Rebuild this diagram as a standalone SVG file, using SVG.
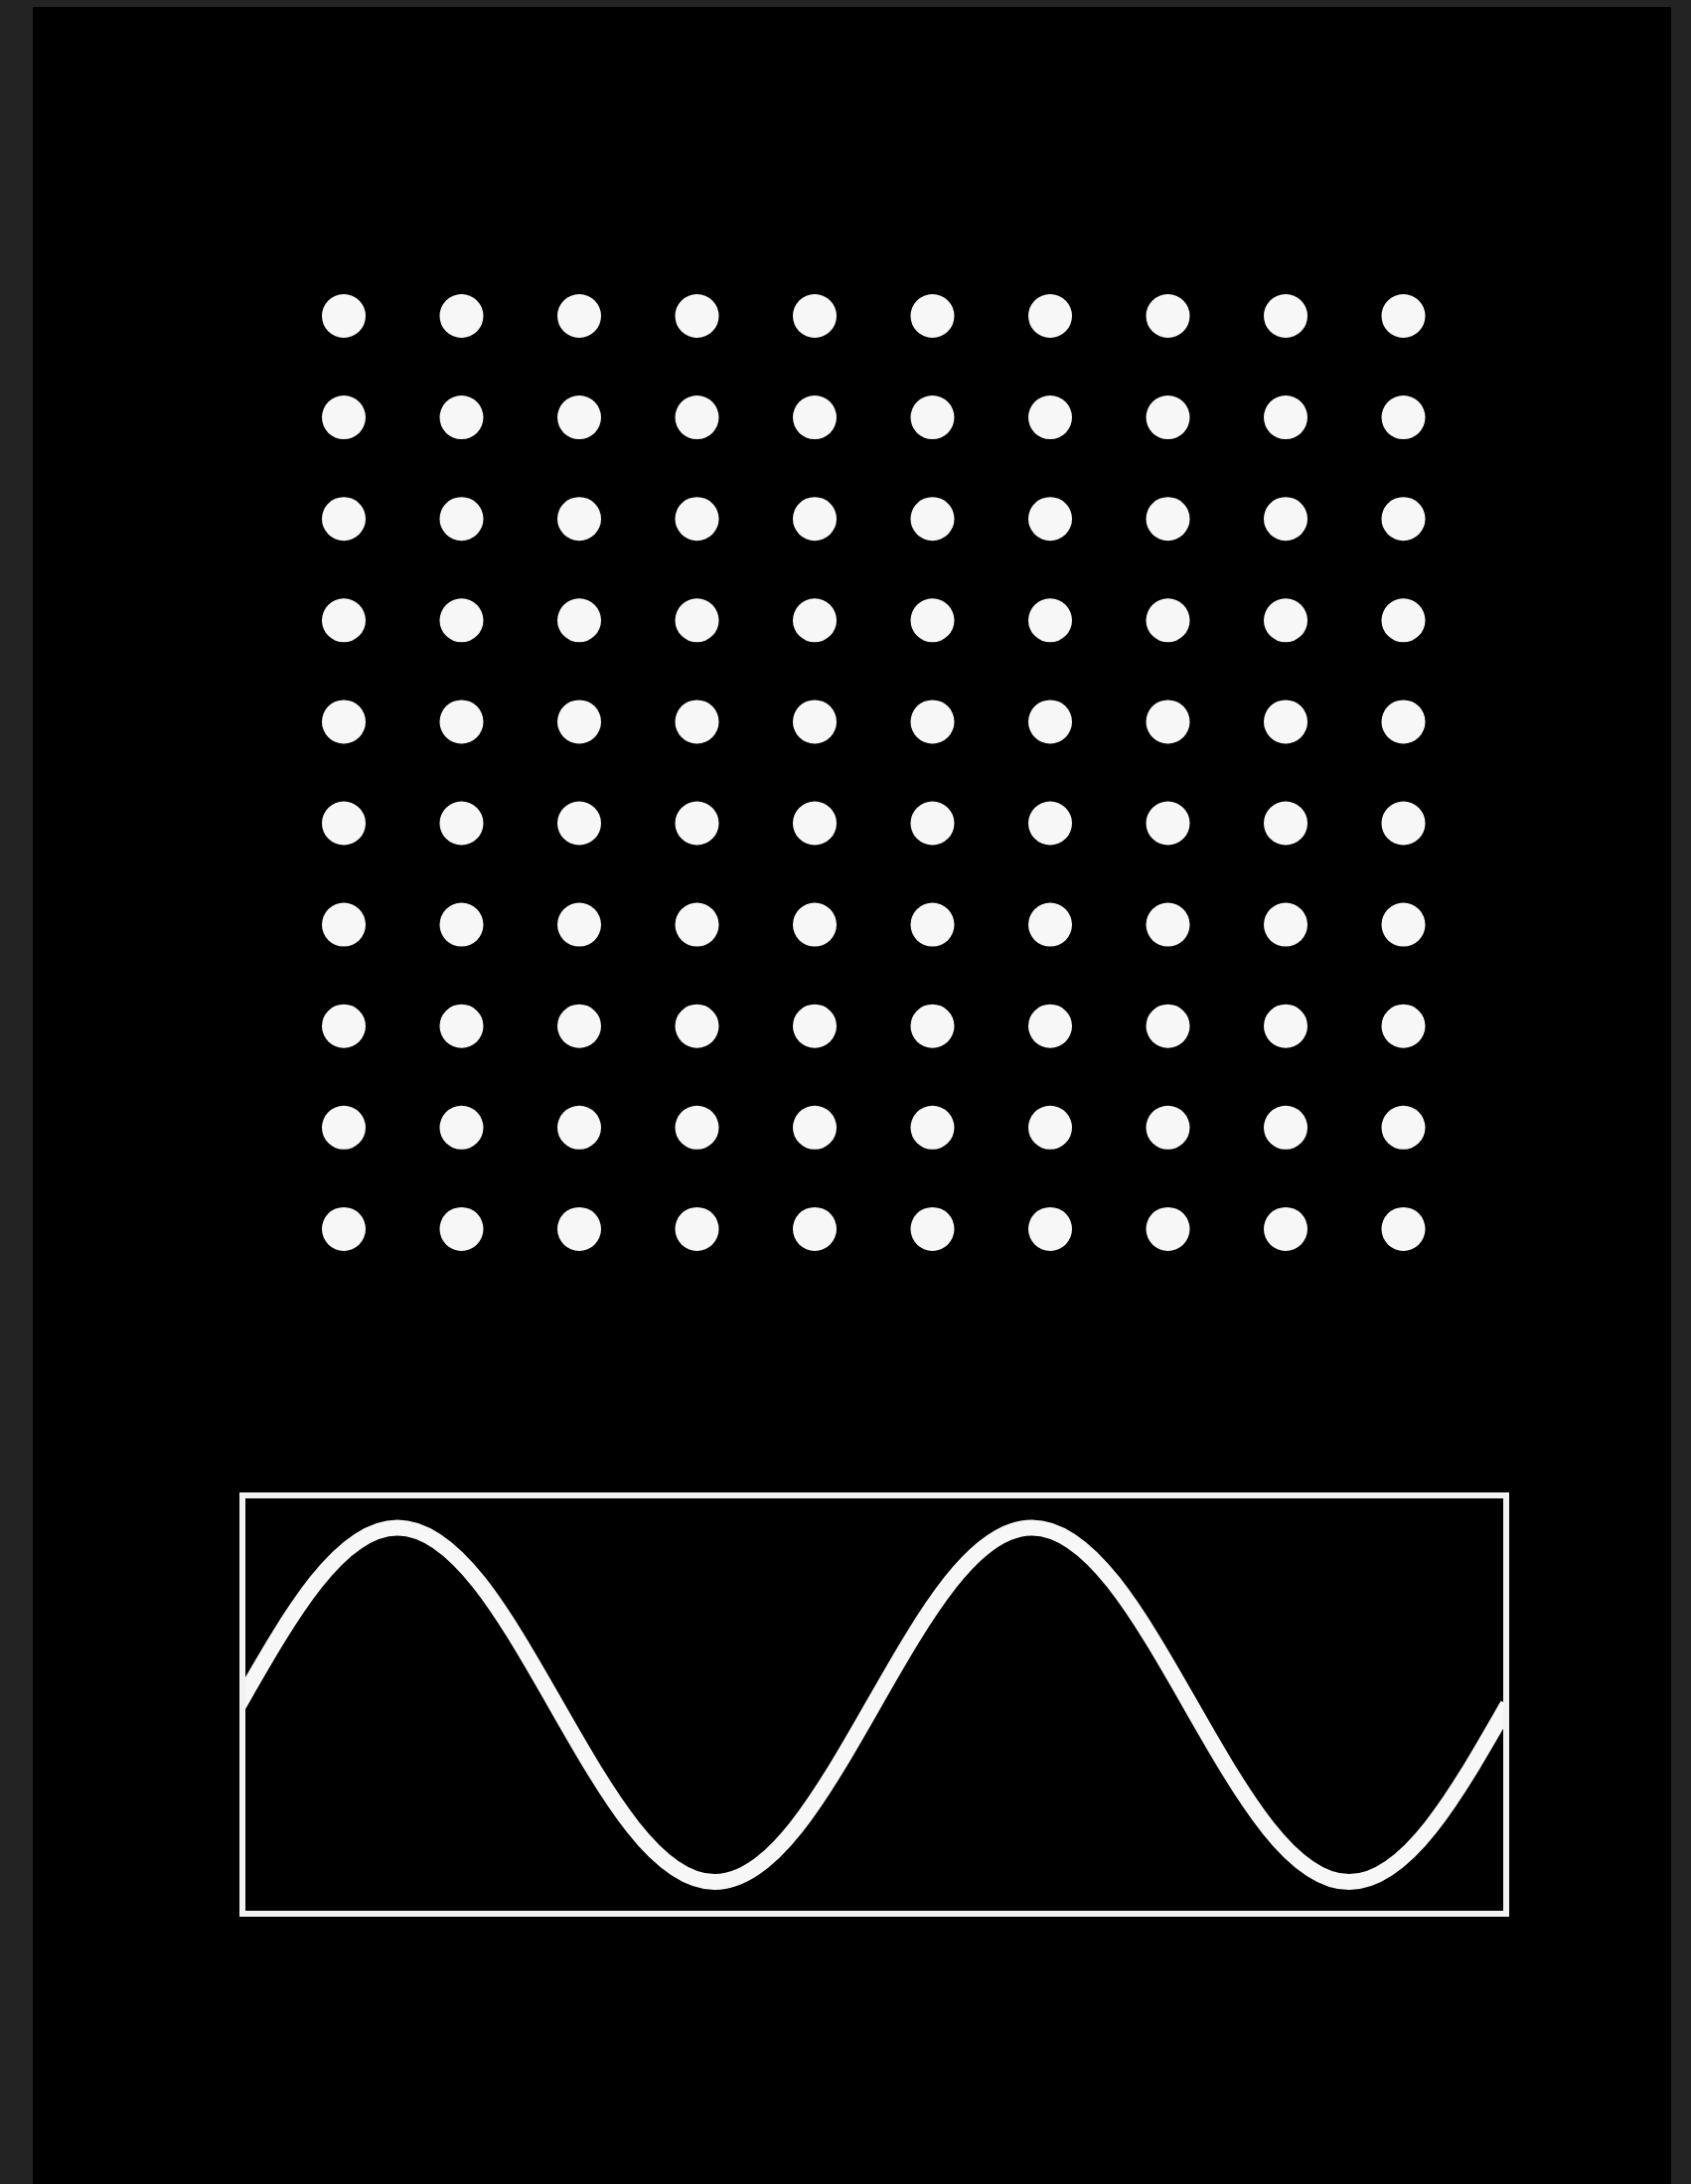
<svg xmlns="http://www.w3.org/2000/svg" xmlns:xlink="http://www.w3.org/1999/xlink" width="1702" height="2198" viewBox="0 0 1702 2198">
  <style>
    .dot { fill: #f7f7f7; }
    .frame { fill: none; stroke: #f2f2f2; stroke-width: 6; }
    .wave { fill: none; stroke: #f7f7f7; stroke-width: 16; stroke-linecap: butt; }
  </style>
  <defs>
    <g id="row">
      <circle class="dot" cx="346" cy="0" r="22"/>
      <circle class="dot" cx="464.5" cy="0" r="22"/>
      <circle class="dot" cx="583" cy="0" r="22"/>
      <circle class="dot" cx="701.5" cy="0" r="22"/>
      <circle class="dot" cx="820" cy="0" r="22"/>
      <circle class="dot" cx="938.5" cy="0" r="22"/>
      <circle class="dot" cx="1057" cy="0" r="22"/>
      <circle class="dot" cx="1175.5" cy="0" r="22"/>
      <circle class="dot" cx="1294" cy="0" r="22"/>
      <circle class="dot" cx="1412.5" cy="0" r="22"/>
    </g>
    <clipPath id="boxclip">
      <rect x="244" y="1505" width="1272" height="421"/>
    </clipPath>
  </defs>
  <rect x="0" y="0" width="1702" height="2198" fill="#232323"/>
  <rect x="33" y="7" width="1649" height="2191" fill="#000000"/>
  <g id="dot-grid">
    <use href="#row" xlink:href="#row" y="318"/>
    <use href="#row" xlink:href="#row" y="420.1"/>
    <use href="#row" xlink:href="#row" y="522.2"/>
    <use href="#row" xlink:href="#row" y="624.3"/>
    <use href="#row" xlink:href="#row" y="726.4"/>
    <use href="#row" xlink:href="#row" y="828.5"/>
    <use href="#row" xlink:href="#row" y="930.6"/>
    <use href="#row" xlink:href="#row" y="1032.7"/>
    <use href="#row" xlink:href="#row" y="1134.8"/>
    <use href="#row" xlink:href="#row" y="1236.9"/>
  </g>
  <g id="wave-box">
    <path class="wave" clip-path="url(#boxclip)" d="M240.3,1715.7 C292.4,1624.4 342.2,1537.4 400,1537.4 S507.5,1624.4 559.6,1715.7 S661.5,1894 719.3,1894 S826.9,1807 879,1715.7 S980.8,1537.4 1038.6,1537.4 S1146.2,1624.4 1198.3,1715.7 S1300.2,1894 1358,1894 S1465.5,1807 1517.6,1715.7"/>
    <rect class="frame" x="244" y="1505" width="1272" height="421"/>
  </g>
</svg>
